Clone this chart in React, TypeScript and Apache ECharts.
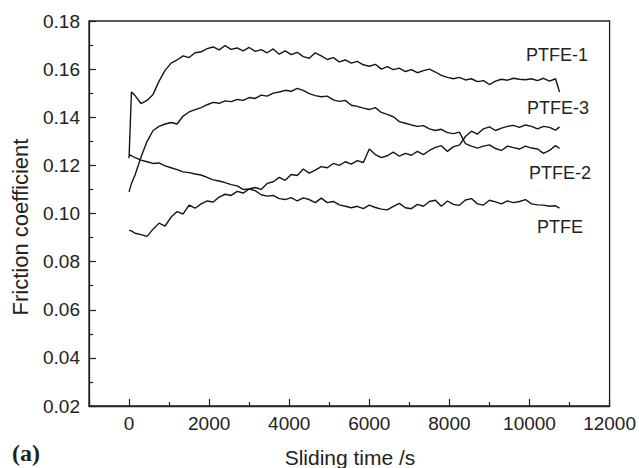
import React, { useEffect, useRef } from "react";
import * as echarts from "echarts";

// Sliding time (s)
const times = [
  0, 60, 150, 300, 450, 600, 750, 900, 1050, 1200,
  1350, 1500, 1650, 1800, 1950, 2100, 2250, 2400, 2550, 2700,
  2850, 3000, 3150, 3300, 3450, 3600, 3750, 3900, 4050, 4200,
  4350, 4500, 4650, 4800, 4950, 5100, 5250, 5400, 5550, 5700,
  5850, 6000, 6150, 6300, 6450, 6600, 6750, 6900, 7050, 7200,
  7350, 7500, 7650, 7800, 7950, 8100, 8250, 8400, 8550, 8700,
  8850, 9000, 9150, 9300, 9450, 9600, 9750, 9900, 10050, 10200,
  10350, 10500, 10650, 10750,
];

const ptfe1 = [
  0.123, 0.1505, 0.149, 0.1457, 0.147, 0.1495, 0.155, 0.1595, 0.1625, 0.1638,
  0.1655, 0.1648, 0.1668, 0.1672, 0.1685, 0.1692, 0.168, 0.1698, 0.1682, 0.1688,
  0.1676, 0.169, 0.1674, 0.1681, 0.1668, 0.1684, 0.1662, 0.1676, 0.166, 0.167,
  0.1652, 0.1645, 0.1668, 0.1655, 0.164, 0.1648, 0.163, 0.1638, 0.1625, 0.1632,
  0.1618, 0.1612, 0.162, 0.16, 0.161, 0.1598, 0.1604, 0.159, 0.1598, 0.1585,
  0.1594, 0.16, 0.1588, 0.1574, 0.1566, 0.156, 0.1566, 0.1555, 0.156, 0.1548,
  0.1552, 0.1536, 0.155, 0.1558, 0.1554, 0.1562, 0.1558, 0.1556, 0.156, 0.1552,
  0.1562, 0.155, 0.156, 0.1505,
];

const ptfe2 = [
  0.109, 0.1125, 0.116, 0.1235, 0.13, 0.1345, 0.1362, 0.1372, 0.1378, 0.1372,
  0.1405, 0.1422, 0.1432, 0.144, 0.1452, 0.1462, 0.1458, 0.1468, 0.1465, 0.1474,
  0.147, 0.1482, 0.1478, 0.1492, 0.1488, 0.15, 0.1505, 0.1512, 0.1508, 0.152,
  0.1512, 0.1498, 0.149, 0.1485, 0.1488, 0.1472, 0.1466, 0.147, 0.145, 0.1445,
  0.1438, 0.1432, 0.144, 0.142, 0.1412, 0.1402, 0.1382, 0.1375, 0.1368, 0.1362,
  0.1365, 0.1352, 0.1345, 0.135, 0.1336, 0.1332, 0.1338, 0.129, 0.128, 0.1272,
  0.128, 0.1285, 0.127, 0.1262, 0.128, 0.1274, 0.1268, 0.128, 0.1272, 0.1268,
  0.125, 0.1262, 0.1282, 0.127,
];

const ptfe3 = [
  0.093, 0.0928, 0.0918, 0.0912, 0.0905, 0.0935, 0.096, 0.0948, 0.0985, 0.1008,
  0.0998, 0.1035, 0.1022, 0.104, 0.1052, 0.1048, 0.1068, 0.108, 0.1075, 0.1092,
  0.1085, 0.1102, 0.1108, 0.11, 0.1125, 0.1132, 0.115, 0.1138, 0.1162, 0.1158,
  0.1185, 0.1168, 0.118, 0.1195, 0.119, 0.1208, 0.12, 0.1215, 0.1205, 0.122,
  0.1212, 0.1268, 0.1245, 0.1232, 0.124, 0.1255, 0.1238, 0.125, 0.1242, 0.1258,
  0.1245, 0.1262, 0.1275, 0.1282, 0.1258, 0.1278, 0.1284, 0.132, 0.1342, 0.133,
  0.1352, 0.136, 0.1345, 0.1355, 0.1362, 0.1366, 0.1358, 0.1368, 0.1362, 0.1352,
  0.1362, 0.1358, 0.1346, 0.136,
];

const ptfe = [
  0.1245, 0.124, 0.1232, 0.1222, 0.1215, 0.1208, 0.121, 0.1198, 0.119, 0.1182,
  0.1173, 0.117, 0.1164, 0.116, 0.115, 0.114, 0.1135, 0.1128, 0.112, 0.1115,
  0.11, 0.1102, 0.1095, 0.1078, 0.1072, 0.1075, 0.1062, 0.1058, 0.1066, 0.1052,
  0.1065, 0.1058, 0.1045, 0.1064, 0.1045, 0.105, 0.1036, 0.103, 0.1024, 0.103,
  0.102, 0.1035, 0.1025, 0.1018, 0.1015, 0.103, 0.1042, 0.1024, 0.102, 0.1038,
  0.103, 0.105, 0.1055, 0.103, 0.1052, 0.1038, 0.1034, 0.1056, 0.1062, 0.104,
  0.1035, 0.1055, 0.1048, 0.104, 0.1052, 0.1045, 0.105, 0.1058, 0.104, 0.1036,
  0.1035, 0.103, 0.1032, 0.1022,
];

const seriesNames = ["PTFE-1", "PTFE-2", "PTFE-3", "PTFE"];
const seriesValues = [ptfe1, ptfe2, ptfe3, ptfe];

const xTitle = "Sliding time /s";
const yTitle = "Friction coefficient";
const panelLabel = "(a)";

const FONT = "Liberation Sans, Arial, sans-serif";
const INK = "#222";

export default function App() {
  const ref = useRef<HTMLDivElement>(null);
  useEffect(() => {
    if (!ref.current) return;
    const chart = echarts.init(ref.current, undefined, { renderer: "svg" });
    chart.setOption({
      animation: false,
      backgroundColor: "#fff",
      grid: {
        left: 89,
        top: 21,
        right: 28,
        bottom: 62,
        show: true,
        borderColor: INK,
        borderWidth: 1.3,
        backgroundColor: "transparent",
      },
      xAxis: {
        type: "value",
        min: -1000,
        max: 12000,
        minInterval: 2000,
        maxInterval: 2000,
        splitNumber: 6,
        axisLine: { show: true, onZero: false, lineStyle: { color: INK, width: 1.3 } },
        axisTick: { show: true, inside: true, length: 7, lineStyle: { color: INK, width: 1.2 } },
        minorTick: { show: true, splitNumber: 2, length: 4, lineStyle: { color: INK, width: 1.2 } },
        splitLine: { show: false },
        axisLabel: {
          color: INK,
          fontFamily: FONT,
          fontSize: 19,
          margin: 8,
          formatter: (v: number) => (v < 0 ? "" : String(v)),
        },
      },
      yAxis: {
        type: "value",
        min: 0.02,
        max: 0.18,
        interval: 0.02,
        axisLine: { show: true, onZero: false, lineStyle: { color: INK, width: 1.3 } },
        axisTick: { show: true, inside: true, length: 7, lineStyle: { color: INK, width: 1.2 } },
        minorTick: { show: true, splitNumber: 2, length: 4, lineStyle: { color: INK, width: 1.2 } },
        splitLine: { show: false },
        axisLabel: {
          color: INK,
          fontFamily: FONT,
          fontSize: 19,
          margin: 9,
          formatter: (v: number) => v.toFixed(2),
        },
      },
      series: seriesNames.map((name, k) => ({
        name,
        type: "line",
        showSymbol: false,
        symbol: "none",
        smooth: false,
        lineStyle: { color: "#151515", width: 1.4 },
        data: times.map((t, i) => [t, seriesValues[k][i]]),
      })),
      graphic: [
        {
          type: "text",
          x: 20,
          y: 227,
          rotation: Math.PI / 2,
          style: { text: yTitle, font: `22px ${FONT}`, fill: INK, align: "center", verticalAlign: "middle" },
        },
        {
          type: "text",
          x: 350,
          y: 457,
          style: { text: xTitle, font: `21px ${FONT}`, fill: INK, align: "center", verticalAlign: "middle" },
        },
        {
          type: "text",
          x: 26,
          y: 453,
          style: { text: panelLabel, font: `bold 24px Liberation Serif, Times New Roman, serif`, fill: INK, align: "center", verticalAlign: "middle" },
        },
        {
          type: "text",
          x: 557,
          y: 55,
          style: { text: "PTFE-1", font: `18px ${FONT}`, fill: INK, align: "center", verticalAlign: "middle" },
        },
        {
          type: "text",
          x: 558,
          y: 108,
          style: { text: "PTFE-3", font: `18px ${FONT}`, fill: INK, align: "center", verticalAlign: "middle" },
        },
        {
          type: "text",
          x: 560,
          y: 173,
          style: { text: "PTFE-2", font: `18px ${FONT}`, fill: INK, align: "center", verticalAlign: "middle" },
        },
        {
          type: "text",
          x: 560,
          y: 227,
          style: { text: "PTFE", font: `18px ${FONT}`, fill: INK, align: "center", verticalAlign: "middle" },
        },
      ],
    });
    return () => chart.dispose();
  }, []);
  return (
    <div
      ref={ref}
      style={{ position: "fixed", left: 0, top: 0, width: 639, height: 468, background: "#fff" }}
    />
  );
}
